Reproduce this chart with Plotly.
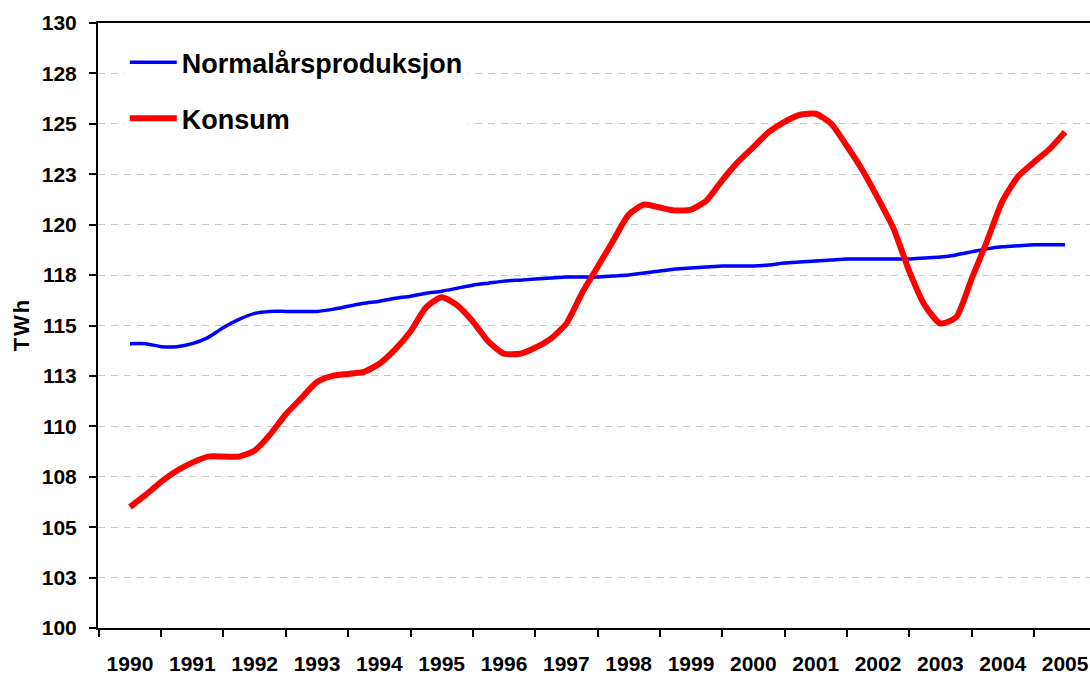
import plotly.graph_objects as go

# Quarterly observations, 1990 Q1 .. 2005 Q1
start_year = 1990
n_quarters = 61
quarter_time = [start_year + i / 4 for i in range(n_quarters)]

normalars = [
    114.1, 114.1, 113.95, 113.95, 114.1, 114.4, 114.9, 115.3, 115.6, 115.7,
    115.7, 115.7, 115.7, 115.8, 115.95, 116.1, 116.2, 116.35, 116.45, 116.6,
    116.7, 116.85, 117.0, 117.1, 117.2, 117.25, 117.3, 117.35, 117.4, 117.4,
    117.4, 117.45, 117.5, 117.6, 117.7, 117.8, 117.85, 117.9, 117.95, 117.95,
    117.95, 118.0, 118.1, 118.15, 118.2, 118.25, 118.3, 118.3, 118.3, 118.3,
    118.3, 118.35, 118.4, 118.5, 118.65, 118.8, 118.9, 118.95, 119.0, 119.0,
    119.0,
]

konsum = [
    106.0, 106.6, 107.25, 107.8, 108.2, 108.5, 108.5, 108.5, 108.8, 109.6,
    110.6, 111.4, 112.2, 112.5, 112.6, 112.7, 113.1, 113.8, 114.7, 115.9,
    116.4, 116.0, 115.2, 114.2, 113.6, 113.6, 113.9, 114.35, 115.1, 116.6,
    117.9, 119.2, 120.5, 121.0, 120.85, 120.7, 120.75, 121.2, 122.2, 123.1,
    123.85, 124.6, 125.1, 125.45, 125.5, 125.0, 123.9, 122.7, 121.3, 119.8,
    117.7, 116.0, 115.1, 115.4, 117.3, 119.2, 121.2, 122.4, 123.1, 123.75,
    124.6,
]

years = list(range(1990, 2006))
year_labels = [str(y) for y in years]
y_ticks = [100, 102.5, 105, 107.5, 110, 112.5, 115, 117.5, 120, 122.5, 125, 127.5, 130]
y_tick_labels = ["100", "103", "105", "108", "110", "113", "115", "118", "120", "123", "125", "128", "130"]

FONT = "Arial, Liberation Sans, sans-serif"

fig = go.Figure()
fig.add_trace(go.Scatter(
    x=quarter_time, y=normalars, mode="lines", name="Normalårsproduksjon",
    legendgroup="a",
    line=dict(color="#0000ff", width=3.5, shape="spline", smoothing=0.6),
))
fig.add_trace(go.Scatter(
    x=quarter_time, y=konsum, mode="lines", name="Konsum",
    legendgroup="b",
    line=dict(color="#ff0000", width=6, shape="spline", smoothing=0.6),
))

fig.update_layout(
    width=1090, height=675,
    margin=dict(l=98, r=0, t=23, b=47, autoexpand=False),
    paper_bgcolor="white", plot_bgcolor="white",
    font=dict(family=FONT, color="black"),
    showlegend=True,
    legend=dict(
        x=0.027, y=0.975, xanchor="left", yanchor="top",
        bgcolor="white", borderwidth=0,
        font=dict(size=27, family=FONT, color="black", weight="bold"),
        tracegroupgap=18, itemwidth=47, entrywidth=350,
    ),
    xaxis=dict(
        range=[1989.487, 2005.40],
        tickvals=years, ticktext=year_labels,
        ticks="outside", ticklen=16, tickcolor="rgba(0,0,0,0)",
        tickfont=dict(size=21, family=FONT, color="black", weight="bold"),
        showgrid=False, zeroline=False,
        showline=True, linecolor="black", linewidth=2, mirror=True,
        minor=dict(
            tickvals=[y - 0.5 for y in years],
            ticks="outside", ticklen=7, tickwidth=1.5, tickcolor="black",
            showgrid=False,
        ),
    ),
    yaxis=dict(
        range=[100, 130],
        tickvals=y_ticks, ticktext=y_tick_labels,
        ticks="outside", ticklen=7, tickwidth=1.5, tickcolor="black",
        ticklabelstandoff=8,
        tickfont=dict(size=21, family=FONT, color="black", weight="bold"),
        showgrid=True, gridcolor="#c8c8c8", gridwidth=1, griddash="7px,6px",
        zeroline=False,
        showline=True, linecolor="black", linewidth=2,
        title=dict(text="T\u200aW\u200ah", font=dict(size=22, family=FONT, color="black", weight="bold"),
                   standoff=6),
    ),
)

fig.write_html(
    "out.html",
    config={"displayModeBar": False},
    post_script="document.body.style.margin='0';document.body.style.overflow='hidden';",
)
